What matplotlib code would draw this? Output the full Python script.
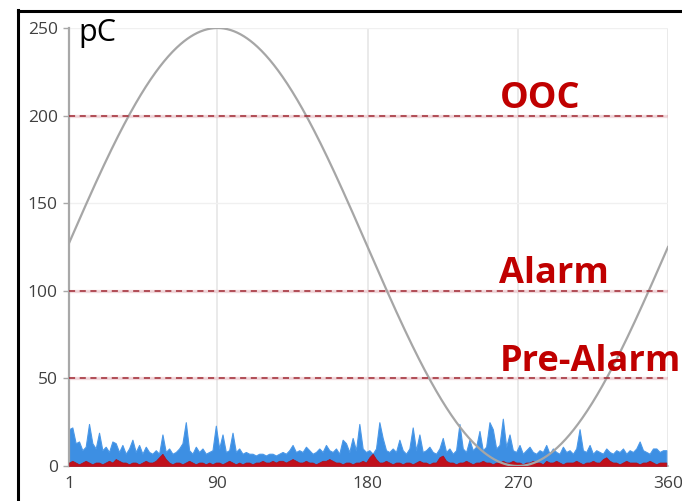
import numpy as np
import matplotlib
matplotlib.use("Agg")
import matplotlib.pyplot as plt
from matplotlib.lines import Line2D

# Phase positions (degrees) of the PD pulse bins
phase = list(range(1, 361, 2))

# Maximum pulse charge per phase bin (pC)
blue_max = [
    21, 22, 13, 14, 9, 11, 24, 13, 10, 19,
    9, 11, 8, 14, 13, 8, 12, 7, 10, 15,
    8, 12, 7, 11, 8, 7, 9, 7, 18, 8,
    10, 7, 8, 10, 13, 25, 9, 7, 11, 8,
    10, 7, 8, 9, 23, 10, 18, 8, 9, 19,
    8, 10, 7, 8, 7, 7, 6, 7, 7, 6,
    7, 7, 6, 7, 8, 7, 9, 12, 8, 9,
    8, 11, 9, 7, 8, 10, 8, 12, 9, 8,
    10, 7, 15, 13, 8, 16, 9, 24, 10, 8,
    9, 7, 10, 25, 16, 9, 8, 10, 8, 15,
    9, 7, 10, 22, 9, 18, 8, 9, 11, 8,
    7, 10, 16, 8, 10, 7, 9, 24, 10, 8,
    15, 9, 11, 20, 9, 11, 25, 21, 10, 12,
    27, 11, 18, 9, 8, 12, 7, 9, 11, 8,
    7, 9, 8, 12, 7, 10, 8, 7, 11, 8,
    9, 7, 10, 21, 9, 8, 12, 7, 9, 8,
    7, 10, 8, 7, 9, 8, 10, 7, 9, 8,
    10, 14, 9, 8, 7, 10, 10, 8, 9, 9,
]

# Average pulse charge per phase bin (pC)
red_avg = [
    2, 3, 2, 1, 2, 3, 2, 1, 2, 2,
    1, 2, 3, 2, 4, 3, 2, 2, 1, 2,
    2, 1, 2, 3, 2, 2, 3, 5, 7, 4,
    2, 1, 2, 2, 1, 2, 3, 2, 1, 2,
    2, 1, 2, 1, 2, 2, 1, 2, 3, 2,
    1, 2, 1, 2, 2, 1, 2, 2, 3, 2,
    2, 3, 2, 3, 3, 2, 3, 4, 3, 2,
    2, 3, 2, 2, 1, 2, 3, 3, 4, 3,
    2, 2, 1, 2, 2, 1, 2, 2, 3, 2,
    5, 7, 4, 2, 2, 3, 2, 1, 2, 2,
    1, 2, 2, 1, 2, 3, 2, 2, 1, 2,
    2, 5, 6, 3, 2, 2, 1, 2, 2, 3,
    2, 1, 2, 2, 3, 2, 2, 1, 2, 2,
    3, 2, 2, 3, 2, 2, 1, 2, 2, 3,
    2, 2, 1, 3, 2, 2, 3, 2, 1, 2,
    2, 2, 3, 2, 1, 2, 2, 3, 2, 2,
    4, 5, 3, 2, 2, 1, 2, 3, 2, 2,
    2, 1, 2, 2, 3, 2, 1, 2, 2, 2,
]

# Threshold levels (pC)
threshold_names = ["OOC", "Alarm", "Pre-Alarm"]
threshold_values = [200, 100, 50]

# Reference sine of the supply voltage, scaled into the pC range
sine_offset = 125
sine_amplitude = 125
x_ticks = [1, 90, 180, 270, 360]
y_ticks = [0, 50, 100, 150, 200, 250]

W, H = 682, 501
fig = plt.figure(figsize=(W / 100, H / 100), dpi=100)
fig.patch.set_facecolor("white")

x0, x1 = 69, 668
y_top, y_bot = 28, 466
ax = fig.add_axes([x0 / W, 1 - y_bot / H, (x1 - x0) / W, (y_bot - y_top) / H])
ax.set_xlim(1, 360)
ax.set_ylim(0, 250)

for v in [90, 180, 270, 360]:
    ax.axvline(v, color="#e6e6e6", lw=1.2, zorder=0)
for v in [50, 100, 150, 200, 250]:
    ax.axhline(v, color="#f0f0f0", lw=1.0, zorder=0)

ax.fill_between(phase, 0, blue_max, color="#3d8fe3", lw=0.8, edgecolor="#4a98e8", zorder=2)
ax.fill_between(phase, 0, red_avg, color="#c0101c", lw=0.5, edgecolor="#a81020", zorder=3)

deg = np.linspace(1, 360, 720)
ax.plot(deg, sine_offset + sine_amplitude * np.sin(np.deg2rad(deg)),
        color="#a6a6a6", lw=1.6, zorder=4)

for name, val in zip(threshold_names, threshold_values):
    ax.axhline(val, color="#e8b0b8", lw=2.4, alpha=0.45, zorder=1)
    ax.axhline(val, color="#a02832", lw=1.1, ls=(0, (4, 3)), zorder=5)
    ax.text(259, val + 4.5, name, color="#c00000", fontsize=26,
            fontweight="bold", family="Open Sans", ha="left", va="baseline",
            zorder=6, clip_on=False)

for s in ["top", "right"]:
    ax.spines[s].set_visible(False)
ax.spines["left"].set_color("#a8a8a8")
ax.spines["left"].set_linewidth(1.6)
ax.spines["bottom"].set_color("#b0b0b0")
ax.spines["bottom"].set_linewidth(1.2)

ax.set_xticks(x_ticks)
ax.set_yticks(y_ticks)
ax.set_xticklabels([str(t) for t in x_ticks])
ax.set_yticklabels([str(t) for t in y_ticks])
ax.tick_params(axis="y", length=4, width=1, color="#a8a8a8", pad=4,
               labelsize=12.5, labelcolor="#404040")
ax.tick_params(axis="x", length=0, pad=7, labelsize=12.5, labelcolor="#404040")
for lab in ax.get_xticklabels() + ax.get_yticklabels():
    lab.set_family("Open Sans")

fig.text(78 / W, 1 - 41 / H, "pC", fontsize=22, family="Open Sans",
         color="black", ha="left", va="baseline")

# Black frame around the panel (open on the right and bottom edges)
fig.add_artist(Line2D([18 / W, 18 / W], [0, 1 - 10 / H], color="black",
                      lw=2.2, transform=fig.transFigure))
fig.add_artist(Line2D([18 / W, 1], [1 - 11 / H, 1 - 11 / H], color="black",
                      lw=2.2, transform=fig.transFigure))

fig.savefig("out.png", dpi=100)
